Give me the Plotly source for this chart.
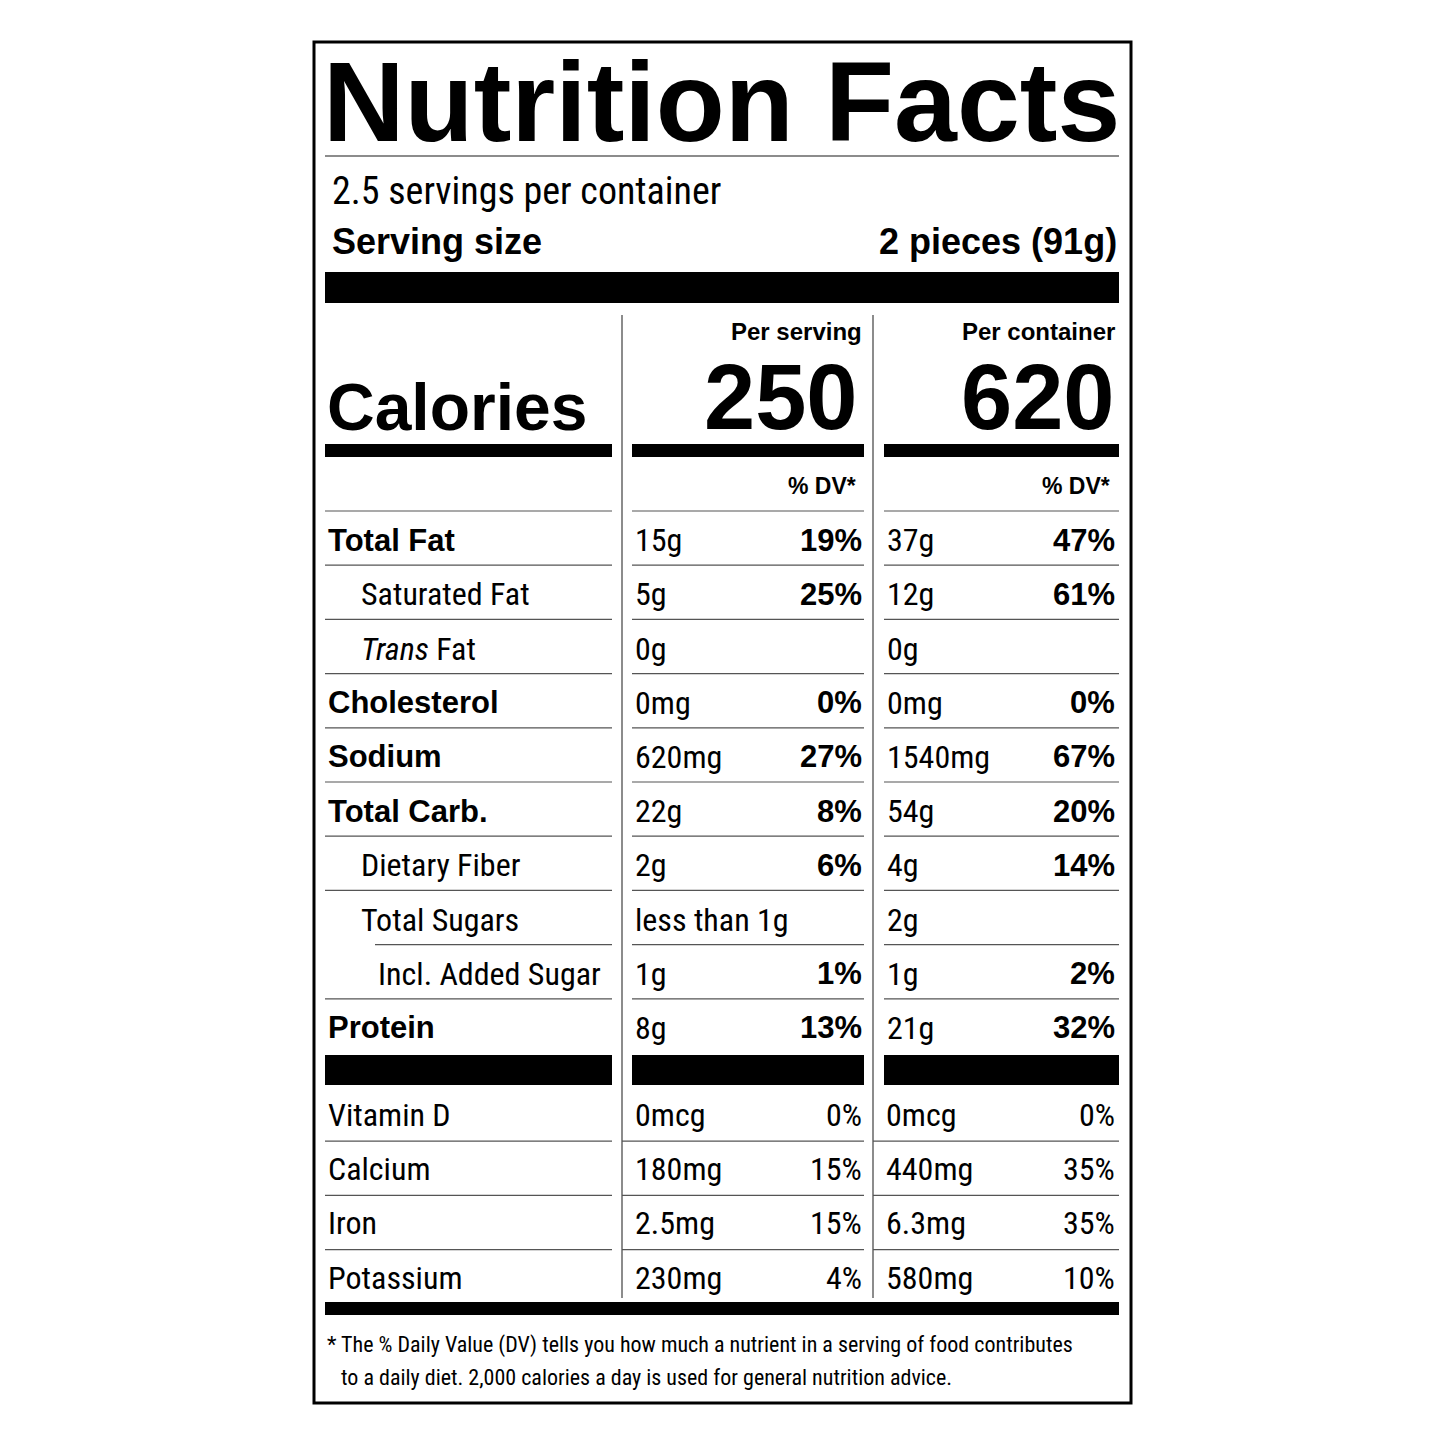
import plotly.graph_objects as go

title = "Nutrition Facts"
servings_text = "2.5 servings per container"
serving_size_label = "Serving size"
serving_size_value = "2 pieces (91g)"
col_headers = ["Per serving", "Per container"]
calories = ["250", "620"]

nutrients = ["Total Fat", "Saturated Fat", "<i>Trans</i> Fat", "Cholesterol", "Sodium",
             "Total Carb.", "Dietary Fiber", "Total Sugars", "Incl. Added Sugar", "Protein"]
nutrient_bold = [True, False, False, True, True, True, False, False, False, True]
nutrient_indent = [0, 1, 1, 0, 0, 0, 1, 1, 2, 0]
serv_amt = ["15g", "5g", "0g", "0mg", "620mg", "22g", "2g", "less than 1g", "1g", "8g"]
serv_dv = ["19%", "25%", "", "0%", "27%", "8%", "6%", "", "1%", "13%"]
cont_amt = ["37g", "12g", "0g", "0mg", "1540mg", "54g", "4g", "2g", "1g", "21g"]
cont_dv = ["47%", "61%", "", "0%", "67%", "20%", "14%", "", "2%", "32%"]

vitamins = ["Vitamin D", "Calcium", "Iron", "Potassium"]
vit_serv_amt = ["0mcg", "180mg", "2.5mg", "230mg"]
vit_serv_dv = ["0%", "15%", "15%", "4%"]
vit_cont_amt = ["0mcg", "440mg", "6.3mg", "580mg"]
vit_cont_dv = ["0%", "35%", "35%", "10%"]

footnote = ["* The % Daily Value (DV) tells you how much a nutrient in a serving of food contributes",
            "to a daily diet. 2,000 calories a day is used for general nutrition advice."]

BOLD = "Liberation Sans"
NARROW = "Liberation Sans Narrow, Roboto Condensed, Liberation Sans"

fig = go.Figure()
shapes = []
ann = []

def rect(x0, y0, x1, y1, color="black"):
    shapes.append(dict(type="rect", x0=x0, x1=x1, y0=y0, y1=y1, fillcolor=color, line_width=0))

def line(x0, y0, x1, y1, w=1.2, color="#555"):
    shapes.append(dict(type="line", x0=x0, x1=x1, y0=y0, y1=y1, line=dict(color=color, width=w)))

def text(x, y, s, size, bold=False, anchor="left", font=NARROW):
    if bold:
        s = "<b>" + s + "</b>"
        font = BOLD
    ann.append(dict(x=x, y=y, text=s, showarrow=False, xanchor=anchor, yanchor="middle",
                    font=dict(family=font, size=size, color="black")))

shapes.append(dict(type="rect", x0=314, x1=1131, y0=42, y1=1403, line=dict(color="black", width=3)))
text(321, 102, title, 113, bold=True)
line(325, 156, 1119, 156, 1.5, "#666")
text(330, 191, servings_text, 38)
text(330, 241, serving_size_label, 36, bold=True)
text(1119, 241, serving_size_value, 36, bold=True, anchor="right")
rect(325, 272, 1119, 303)

line(622, 315, 622, 1298, 1.5, "#666")
line(873, 315, 873, 1298, 1.5, "#666")
text(864, 331, col_headers[0], 24, bold=True, anchor="right")
text(1117, 331, col_headers[1], 24, bold=True, anchor="right")
text(325, 407, "Calories", 66, bold=True)
text(860, 397, calories[0], 92, bold=True, anchor="right")
text(1117, 397, calories[1], 92, bold=True, anchor="right")
cols = [(325, 612), (632, 864), (884, 1119)]
for a, b in cols:
    rect(a, 444, b, 457)
text(858, 486, "% DV*", 23, bold=True, anchor="right")
text(1112, 486, "% DV*", 23, bold=True, anchor="right")

top = 511
h = 54.2
indent_px = [0, 33, 50]
for i, name in enumerate(nutrients):
    y0 = top + i * h
    yc = y0 + h / 2 + 2
    lx = 325 + (indent_px[2] if nutrient_indent[i] == 2 else 0)
    line(lx, y0, 612, y0)
    line(632, y0, 864, y0)
    line(884, y0, 1119, y0)
    x = 326 + indent_px[nutrient_indent[i]]
    if nutrient_bold[i]:
        text(x, yc, name, 31, bold=True)
    else:
        text(x, yc, name, 32)
    text(633, yc, serv_amt[i], 32)
    text(864, yc, serv_dv[i], 31, bold=True, anchor="right")
    text(885, yc, cont_amt[i], 32)
    text(1117, yc, cont_dv[i], 31, bold=True, anchor="right")

for a, b in cols:
    rect(a, 1055, b, 1085)

vtop = 1087
for i, name in enumerate(vitamins):
    y0 = vtop + i * 54.2
    yc = y0 + 28
    if i > 0:
        line(325, y0, 612, y0)
        line(622, y0, 864, y0)
        line(873, y0, 1119, y0)
    text(326, yc, name, 32)
    text(633, yc, vit_serv_amt[i], 32)
    text(864, yc, vit_serv_dv[i], 32, anchor="right")
    text(884, yc, vit_cont_amt[i], 32)
    text(1117, yc, vit_cont_dv[i], 32, anchor="right")

rect(325, 1302, 1119, 1315)
text(325, 1345, footnote[0], 22)
text(339, 1377, footnote[1], 22)

fig.update_layout(width=1445, height=1445, margin=dict(l=0, r=0, t=0, b=0),
                  plot_bgcolor="white", paper_bgcolor="white",
                  shapes=shapes, annotations=ann, showlegend=False,
                  xaxis=dict(range=[8, 1453], visible=False, fixedrange=True),
                  yaxis=dict(range=[1453, 8], visible=False, fixedrange=True))
fig.write_html("out.html")
